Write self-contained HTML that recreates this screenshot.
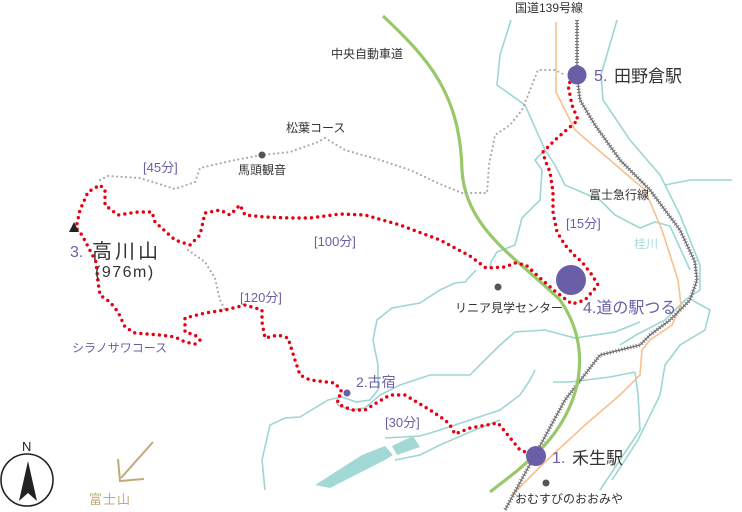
<!DOCTYPE html>
<html><head><meta charset="utf-8"><style>
html,body{margin:0;padding:0;background:#fff;}
svg{display:block;}
text{font-family:"Liberation Sans","Noto Sans CJK JP",sans-serif;}
</style></head><body>
<svg width="742" height="512" viewBox="0 0 742 512" xmlns="http://www.w3.org/2000/svg">
<g fill="none" stroke="#9dd6d3" stroke-width="1.6">
<polyline points="511,20 500,55 497,85 525,105 545,150 555,165 565,185 600,200 615,215 640,228 655,222 670,226 690,270"/>
<polyline points="545,150 535,160 542,170 540,200 522,218 515,245 497,252 491,262 490,268"/>
<polyline points="617,20 601,75 603,100 630,140 660,175 665,185 690,180 732,180"/>
<polyline points="665,185 680,215 700,265 700,290 685,300 665,320 636,335 620,345"/>
<polyline points="692,300 710,310 705,330 680,345 665,365 660,395 638,440 612,480"/>
<polyline points="262,460 270,425 285,418 300,417 328,400 342,397 356,402 370,400 378,390 378,365 373,340 377,320 392,308 420,303 440,290 455,283 465,282 476,270"/>
<polyline points="336,402 338,405 350,410 365,408 380,395 400,385 430,375 470,375 500,345 515,332 545,330 575,338 615,332 640,322"/>
<polyline points="553,382 570,382 610,377 635,372"/>
<polyline points="385,438 420,436 440,430 470,420 500,410 520,395 530,380 535,370"/>
<polyline points="395,460 420,455 440,445 470,432 500,420"/>
<polyline points="635,372 638,395 640,430 620,460 600,490"/>
<polyline points="262,460 265,490"/>
</g>
<polygon points="315,485 362,455 385,446 393,455 385,460 330,488" fill="#a3d9d5"/>
<polygon points="392,446 413,436 420,447 397,455" fill="#a3d9d5"/>
<polyline points="556,22 556,92 575,130 610,160 645,190 662,230 678,280 681,305 672,325 650,340 642,350 640,375 620,395 585,425 545,462 512,495" fill="none" stroke="#f7c08e" stroke-width="1.6"/>
<polyline points="577,20 577,75 580,100 595,125 620,160 650,190 680,230 695,262 697,280 690,300 670,320 650,335 640,345 620,350 600,355 590,368 565,400 535,455 505,510" fill="none" stroke="#666" stroke-width="1.2"/>
<polyline points="577,20 577,75 580,100 595,125 620,160 650,190 680,230 695,262 697,280 690,300 670,320 650,335 640,345 620,350 600,355 590,368 565,400 535,455 505,510" fill="none" stroke="#777" stroke-width="4" stroke-dasharray="1 2"/>
<path d="M383,16 C430,60 460,95 462,170 C465,230 520,260 560,300 C595,350 580,410 540,450 C520,470 505,480 490,492" fill="none" stroke="#98c86a" stroke-width="3.2"/>
<polyline points="100,180 108,176 140,178 175,189 195,182 200,168 235,160 262,155 290,152 318,142 325,138 345,150 380,160 410,170 440,184 462,193 487,193 489,165 495,135 510,125 522,110 530,90 538,70 555,70 565,75" fill="none" stroke="#aaa" stroke-width="2.2" stroke-dasharray="0 4.5" stroke-linecap="round"/>
<polyline points="188,250 205,262 215,278 220,300 225,310" fill="none" stroke="#aaa" stroke-width="2.2" stroke-dasharray="0 4.5" stroke-linecap="round"/>
<polyline points="536,456 520,450 498,423 470,428 455,434 450,425 445,420 430,410 405,395 390,395 378,402 365,410 352,410 340,405 337,400 342,392 335,383 310,380 300,375 295,360 288,338 278,335 265,338 262,322 262,310 245,305 225,310 205,313 185,318 185,332 195,335 200,340 195,344 185,342 175,337 160,335 135,333 125,327 118,312 110,302 100,295 98,282 96,262 82,235 76,228 80,210 88,192 100,185 105,190 105,205 118,215 138,212 152,212 155,222 175,240 190,245 200,235 205,213 220,210 230,215 240,205 245,215 265,217 290,218 310,218 340,214 365,215 400,225 440,240 470,256 486,268 505,267 515,263 526,265 540,278 556,292 572,304 585,300 598,285 592,275 582,262 575,256 565,245 557,232 553,212 553,192 550,172 545,160 543,152 555,140 578,120 572,105 568,85 575,75" fill="none" stroke="#e60012" stroke-width="3.4" stroke-dasharray="0 6.2" stroke-linecap="round"/>
<circle cx="577" cy="75" r="9.5" fill="#6a5ea7"/>
<circle cx="571" cy="280" r="15" fill="#6a5ea7"/>
<circle cx="536" cy="456" r="10" fill="#6a5ea7"/>
<circle cx="347" cy="393" r="3.5" fill="#6a5ea7"/>
<circle cx="262" cy="155" r="3.5" fill="#555"/>
<circle cx="498" cy="287" r="3.5" fill="#555"/>
<circle cx="546" cy="483" r="3.5" fill="#555"/>
<polygon points="69,232 74,222 79,232" fill="#222"/>
<g fill="#333" font-size="12">
<text x="515" y="12">国道139号線</text>
<text x="331" y="58">中央自動車道</text>
<text x="286" y="132">松葉コース</text>
<text x="238" y="174">馬頭観音</text>
<text x="589" y="199">富士急行線</text>
<text x="455" y="312">リニア見学センター</text>
<text x="515" y="503">おむすびのおおみや</text>
</g>
<g fill="#6a5ea7" font-size="13">
<text x="143" y="172">[45分]</text>
<text x="314" y="246">[100分]</text>
<text x="240" y="302">[120分]</text>
<text x="566" y="228">[15分]</text>
<text x="385" y="427">[30分]</text>
<text x="72" y="352" font-size="12">シラノサワコース</text>
</g>
<text x="634" y="248" font-size="12" fill="#a8dcd8">桂川</text>
<text x="594" y="81" font-size="16" fill="#6a5ea7">5.</text>
<text x="614" y="82" font-size="17" fill="#333">田野倉駅</text>
<text x="583" y="313" font-size="16" fill="#6a5ea7">4.道の駅つる</text>
<text x="356" y="387" font-size="14" fill="#6a5ea7">2.古宿</text>
<text x="552" y="463" font-size="16" fill="#6a5ea7">1.</text>
<text x="572" y="464" font-size="17" fill="#333">禾生駅</text>
<text x="70" y="257" font-size="16" fill="#6a5ea7">3.</text>
<text x="92" y="258" font-size="20" fill="#333" letter-spacing="3">高川山</text>
<text x="95" y="277" font-size="16" fill="#333" letter-spacing="1.5">(976m)</text>
<text x="22" y="451" font-size="13" fill="#222">N</text>
<circle cx="27" cy="480" r="26" fill="none" stroke="#222" stroke-width="1.6"/>
<polygon points="28,461 19,501 28,493 37,501" fill="#222"/>
<polyline points="153,442 121,478" fill="none" stroke="#c0aa7a" stroke-width="2"/>
<polyline points="118,459 120,481 144,479" fill="none" stroke="#c0aa7a" stroke-width="2"/>
<text x="89" y="504" font-size="13" fill="#c0aa7a" letter-spacing="1">富士山</text>
</svg>
</body></html>
